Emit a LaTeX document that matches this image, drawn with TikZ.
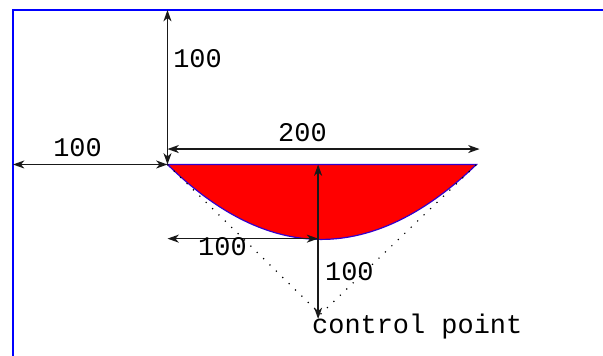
\documentclass[tikz,border=0pt]{standalone}
\usepackage{fontspec}
\setmonofont{Liberation Mono}
\usetikzlibrary{arrows.meta, calc}

\begin{document}
\begin{tikzpicture}[
    x=1.159pt, y=-1.159pt,
    frame/.style={draw=blue, line width=1.3pt},
    bowl/.style={fill=red, draw=blue!80!red, line width=0.9pt},
    hull/.style={black, line width=0.9pt, dash pattern=on 0.9pt off 5.8pt},
    dim/.style={{Stealth[length=8.5pt, width=6pt, inset=2.5pt]}-{Stealth[length=8.5pt, width=6pt, inset=2.5pt]},
                line width=1.1pt, color=black!90},
    lbl/.style={font=\ttfamily\fontsize{20.2}{24}\selectfont, anchor=base west,
                inner sep=0pt, text=black},
]
\useasboundingbox (-8.41,-6.47) rectangle (381.9,223.9);
\clip (-8.41,-6.47) rectangle (381.9,223.9);

% ================================================================ points
\coordinate (corner) at (0,0);
\coordinate (start)  at (100,100);
\coordinate (end)    at (300,100);
\coordinate (ctrl)   at (199,197);
\coordinate (mid)    at (197.5,100);
\coordinate (low)    at (197.5,200);
\coordinate (bottom) at (197.5,148);
\coordinate (edgeL)  at (0,100);
\coordinate (edgeT)  at (100,0);
\coordinate (wideL)  at (100,90);
\coordinate (wideR)  at (302,90);
\coordinate (halfL)  at (100,148);

% ================================================================ frame and bowl
\draw[frame] (corner) rectangle (420,260);
\draw[bowl] (start) .. controls ($(start)!2/3!(ctrl)$) and ($(end)!2/3!(ctrl)$) .. (end) -- cycle;
\draw[hull] (start) -- (ctrl) -- (end);

% ================================================================ dimensions
\draw[dim] (start) -- (edgeT);
\draw[dim] (start) -- (edgeL);
\draw[dim] (wideL) -- (wideR);
\draw[dim] (halfL) -- (bottom);
\draw[dim] (mid) -- (low);

\node[lbl] (topLbl)  at (103.6,36.9)  {100};
\node[lbl] (leftLbl) at (25.9,95.1)   {100};
\node[lbl] (wideLbl) at (171.5,85.4)  {200};
\node[lbl] (halfLbl) at (119.7,159.2) {100};
\node[lbl] (depLbl)  at (201.9,174.8) {100};
\node[lbl] (ctrlLbl) at (193.5,209.1) {control point};

\end{tikzpicture}
\end{document}
